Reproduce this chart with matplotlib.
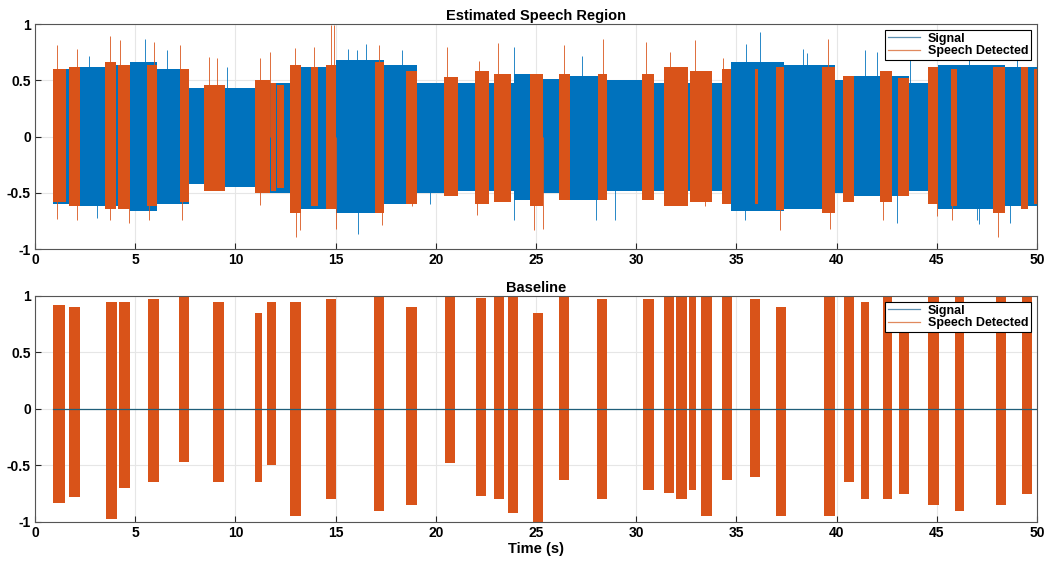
import numpy as np
import matplotlib
matplotlib.use('Agg')
import matplotlib.pyplot as plt
from matplotlib.lines import Line2D

plt.rcParams['font.family'] = ['Liberation Sans', 'DejaVu Sans']
plt.rcParams['font.weight'] = 'bold'

BLUE = '#0072BD'
ORANGE = '#D95319'

# --- top panel: envelope of the noisy signal (start, end, top, bottom)
sig_start = [0.9, 2.25, 3.5, 4.75, 6.1, 7.7, 8.45, 9.5, 11.0, 13.25, 15.0, 17.4, 19.05, 21.1, 23.9, 25.35, 26.7, 28.55, 30.9, 33.8, 34.75, 37.4, 39.9, 40.85, 43.6, 45.05, 48.4]
sig_end = [2.25, 3.5, 4.75, 6.1, 7.7, 8.45, 9.5, 11.0, 13.25, 15.0, 17.4, 19.05, 21.1, 23.9, 25.35, 26.7, 28.55, 30.9, 33.8, 34.75, 37.4, 39.9, 40.85, 43.6, 45.05, 48.4, 50.0]
sig_top = [0.6, 0.62, 0.64, 0.66, 0.6, 0.43, 0.43, 0.43, 0.48, 0.62, 0.68, 0.64, 0.48, 0.48, 0.56, 0.51, 0.54, 0.5, 0.48, 0.48, 0.66, 0.64, 0.5, 0.54, 0.48, 0.64, 0.62]
sig_bot = [-0.6, -0.62, -0.62, -0.66, -0.6, -0.42, -0.43, -0.45, -0.5, -0.64, -0.68, -0.6, -0.5, -0.48, -0.56, -0.5, -0.56, -0.48, -0.48, -0.48, -0.66, -0.64, -0.5, -0.53, -0.48, -0.64, -0.62]

# speech segments detected by the estimator
det_start = [0.9, 1.7, 3.5, 4.15, 5.6, 7.25, 8.45, 11.0, 11.8, 12.1, 12.7, 13.75, 14.5, 16.95, 18.5, 20.4, 21.95, 22.9, 24.7, 26.15, 28.1, 30.3, 31.4, 32.7, 34.3, 35.95, 37.0, 39.25, 40.3, 42.15, 43.05, 44.55, 45.7, 47.8, 49.2, 49.85]
det_end = [1.55, 2.25, 4.05, 4.75, 6.1, 7.7, 9.5, 11.75, 12.05, 12.4, 13.25, 14.1, 15.0, 17.4, 19.05, 21.1, 22.65, 23.75, 25.35, 26.7, 28.55, 30.9, 32.6, 33.8, 34.75, 36.1, 37.4, 39.9, 40.85, 42.75, 43.6, 45.05, 46.0, 48.4, 49.55, 50.0]
det_top = [0.6, 0.62, 0.66, 0.64, 0.64, 0.6, 0.46, 0.5, 0.48, 0.46, 0.64, 0.62, 0.64, 0.66, 0.58, 0.53, 0.58, 0.56, 0.56, 0.56, 0.56, 0.56, 0.62, 0.58, 0.6, 0.6, 0.62, 0.62, 0.54, 0.58, 0.52, 0.62, 0.6, 0.62, 0.62, 0.6]
det_bot = [-0.58, -0.62, -0.64, -0.64, -0.62, -0.58, -0.48, -0.5, -0.48, -0.46, -0.68, -0.62, -0.64, -0.68, -0.6, -0.53, -0.6, -0.58, -0.62, -0.56, -0.56, -0.56, -0.62, -0.58, -0.6, -0.6, -0.65, -0.68, -0.58, -0.58, -0.53, -0.6, -0.62, -0.68, -0.64, -0.6]

# prominent spikes in the top panel (time, value)
spk_t = [1.08, 2.08, 2.67, 3.75, 4.25, 5.5, 5.95, 6.58, 7.25, 8.7, 9.08, 9.58, 11.25, 11.75, 12.95, 13.9, 14.75, 14.92, 15.6, 16.08, 16.5, 17.17, 18.33, 20.58, 22.17, 23.08, 23.92, 26.42, 27.3, 28.33, 30.5, 31.67, 32.92, 34.33, 35.5, 36.17, 38.3, 38.5, 39.58, 41.42, 42.0, 43.67, 46.6, 49.0,
         1.08, 2.08, 3.1, 3.75, 4.67, 5.7, 7.33, 11.25, 13.0, 13.2, 15.0, 16.13, 17.33, 18.83, 19.7, 22.08, 23.92, 24.9, 25.33, 28.0, 28.92, 33.42, 35.42, 37.17, 39.67, 42.33, 43.0, 45.0, 45.75, 47.0, 47.1, 48.08, 48.67]
spk_v = [0.81, 0.78, 0.72, 0.89, 0.86, 0.87, 0.84, 0.77, 0.81, 0.71, 0.7, 0.62, 0.7, 0.75, 0.79, 0.8, 0.99, 0.99, 0.78, 0.77, 0.82, 0.81, 0.77, 0.8, 0.67, 0.83, 0.8, 0.81, 0.72, 0.87, 0.84, 0.75, 0.86, 0.7, 0.82, 0.93, 0.78, 0.74, 0.87, 0.77, 0.75, 0.77, 0.78, 0.72,
         -0.73, -0.74, -0.72, -0.74, -0.77, -0.74, -0.74, -0.61, -0.89, -0.83, -0.82, -0.87, -0.79, -0.62, -0.6, -0.7, -0.74, -0.83, -0.82, -0.74, -0.74, -0.62, -0.74, -0.83, -0.82, -0.74, -0.77, -0.71, -0.74, -0.74, -0.78, -0.89, -0.77]

# --- bottom panel: clean speech bursts
base_start = [0.9, 1.7, 3.55, 4.2, 5.65, 7.2, 8.9, 11.0, 11.6, 12.7, 14.5, 16.9, 18.5, 20.45, 22.0, 22.9, 23.6, 24.85, 26.15, 28.05, 30.35, 31.4, 32.0, 32.65, 33.25, 34.3, 35.7, 37.0, 39.35, 40.35, 41.2, 42.3, 43.1, 44.55, 45.9, 47.95, 49.25]
base_end = [1.5, 2.25, 4.1, 4.75, 6.2, 7.7, 9.45, 11.35, 12.05, 13.25, 15.0, 17.4, 19.05, 20.95, 22.5, 23.4, 24.1, 25.35, 26.65, 28.55, 30.9, 31.9, 32.55, 33.0, 33.8, 34.8, 36.2, 37.5, 39.9, 40.85, 41.6, 42.75, 43.6, 45.1, 46.35, 48.45, 49.75]
base_top = [0.92, 0.9, 0.95, 0.95, 0.97, 1.0, 0.95, 0.85, 0.95, 0.95, 0.97, 1.0, 0.9, 1.0, 0.98, 1.0, 1.0, 0.85, 1.0, 0.97, 0.97, 1.0, 1.0, 1.0, 1.0, 1.0, 0.97, 0.9, 1.0, 1.0, 0.95, 1.0, 0.95, 1.0, 1.0, 1.0, 1.0]
base_bot = [-0.83, -0.78, -0.97, -0.7, -0.65, -0.47, -0.65, -0.65, -0.5, -0.95, -0.8, -0.9, -0.85, -0.48, -0.77, -0.8, -0.92, -1.0, -0.63, -0.8, -0.72, -0.74, -0.8, -0.72, -0.95, -0.63, -0.6, -0.95, -0.95, -0.65, -0.8, -0.8, -0.75, -0.85, -0.9, -0.85, -0.75]

ticks_x = np.arange(0, 51, 5)
ticks_y = [-1, -0.5, 0, 0.5, 1]
tick_lbl_y = ['-1', '-0.5', '0', '0.5', '1']


def style(ax, title):
    ax.set_xlim(0, 50)
    ax.set_ylim(-1, 1)
    ax.set_xticks(ticks_x)
    ax.set_yticks(ticks_y)
    ax.set_yticklabels(tick_lbl_y)
    ax.tick_params(direction='in', length=4, labelsize=10, color='#262626', pad=3)
    ax.grid(True, color='#e6e6e6', linewidth=0.8)
    ax.set_axisbelow(True)
    for s in ax.spines.values():
        s.set_color('#555555')
        s.set_linewidth(0.8)
    ax.set_title(title, fontsize=10.5, fontweight='bold', pad=3)
    handles = [Line2D([], [], color='#5b8fb0', lw=0.9), Line2D([], [], color='#e0895e', lw=0.9)]
    leg = ax.legend(handles, ['Signal', 'Speech Detected'], loc='upper right',
                    fontsize=9, fancybox=False, framealpha=1, borderaxespad=0.5,
                    handlelength=2.6, borderpad=0.2, labelspacing=0.05, handletextpad=0.6)
    leg.get_frame().set_edgecolor('black')
    leg.get_frame().set_linewidth(0.8)


def draw_blocks(ax, starts, ends, tops, bots, color):
    for s, e, t, b in zip(starts, ends, tops, bots):
        ax.fill_between([s, e], [b, b], [t, t], color=color, linewidth=0)


def in_detected(t):
    return any(s <= t <= e for s, e in zip(det_start, det_end))


fig = plt.figure(figsize=(10.52, 5.67), dpi=100)
ax1 = fig.add_axes([0.0333, 0.5608, 0.9524, 0.3968])
ax2 = fig.add_axes([0.0333, 0.0794, 0.9524, 0.3986])

# top panel
draw_blocks(ax1, sig_start, sig_end, sig_top, sig_bot, BLUE)
blue_t = [t for t in spk_t if not in_detected(t)]
blue_v = [v for t, v in zip(spk_t, spk_v) if not in_detected(t)]
ax1.vlines(blue_t, 0, blue_v, color=BLUE, linewidth=0.7, alpha=0.85)
draw_blocks(ax1, det_start, det_end, det_top, det_bot, ORANGE)
or_t = [t for t in spk_t if in_detected(t)]
or_v = [v for t, v in zip(spk_t, spk_v) if in_detected(t)]
ax1.vlines(or_t, 0, or_v, color=ORANGE, linewidth=0.7, alpha=0.85)
style(ax1, 'Estimated Speech Region')

# bottom panel
ax2.plot([0.9, 50], [0, 0], color='#1f5f7a', linewidth=0.9)
draw_blocks(ax2, base_start, base_end, base_top, base_bot, ORANGE)
style(ax2, 'Baseline')
ax2.set_xlabel('Time (s)', fontsize=10.5, fontweight='bold', labelpad=1)

fig.savefig('out.png', dpi=100)
